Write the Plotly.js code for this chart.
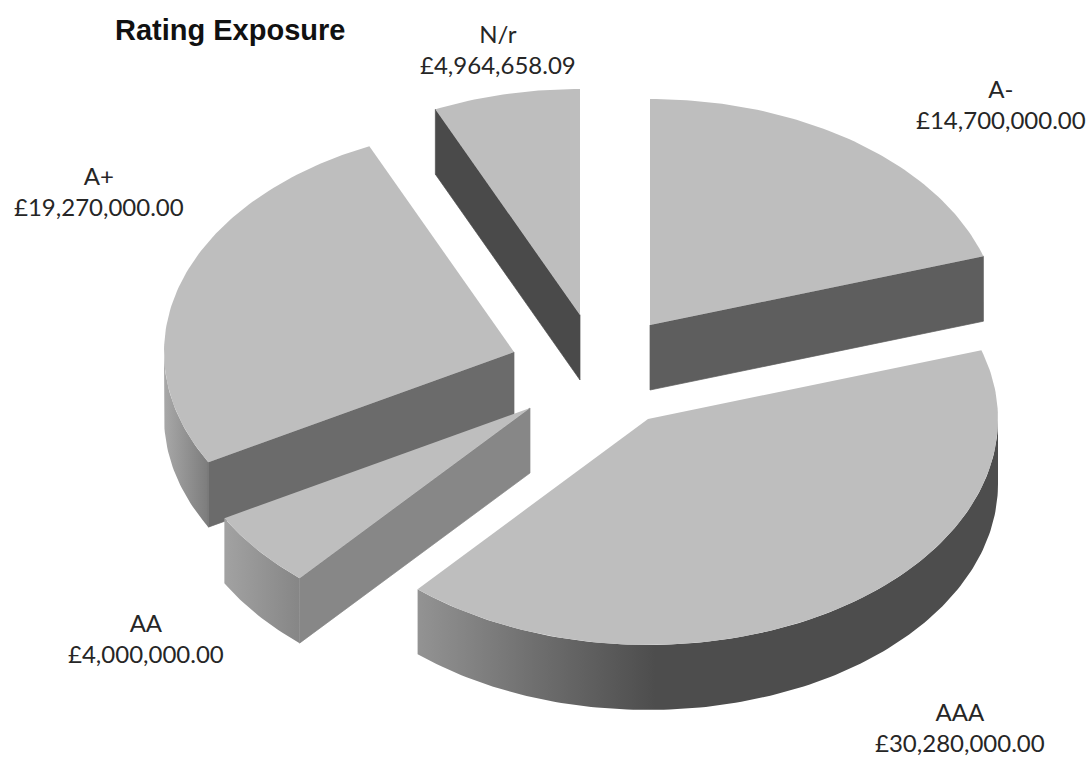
<!DOCTYPE html>
<html><head><meta charset="utf-8">
<script src="https://cdn.plot.ly/plotly-3.0.1.min.js"></script>
<style>html,body{margin:0;padding:0;background:#fff}#chart{width:1089px;height:757px}</style>
</head><body><div id="chart"></div>
<script>
// Data, clockwise from twelve o'clock
const categories = ['A-', 'AAA', 'AA', 'A+', 'N/r'];
const values = [14700000, 30280000, 4000000, 19270000, 4964658.09];
const titleText = 'Rating Exposure';

// Drawing geometry (page pixels) for the exploded, tilted pie
const apexX = [650, 648, 530, 514, 580];
const apexY = [325, 419, 408, 352, 315];
const labelX = [1001, 960, 146, 99, 498];
const labelY = [104, 727, 638, 191, 49];
const wallEdge = ['end', null, 'start', 'start', 'start'];
const wallColor = ['#5e5e5e', null, '#878787', '#6b6b6b', '#4a4a4a'];
const rimScale = [
  null,
  [[0, '#939393'], [0.2, '#6f6f6f'], [0.41, '#4d4d4d'], [1, '#4d4d4d']],
  [[0, '#a2a2a2'], [1, '#868686']],
  [[0, '#a8a8a8'], [1, '#7c7c7c']],
  null
];
const drawOrder = [4, 0, 3, 2, 1];
const RX = 350, RY = 226, DEPTH = 65, TOP = '#bebebe';

const total = values.reduce((a, b) => a + b, 0);
const rad = d => d * Math.PI / 180;
let acc = 0;
const spans = values.map(v => { const s = acc; acc += v / total * 360; return [s, acc]; });
const pt = (i, deg, dy) => [apexX[i] + RX * Math.sin(rad(deg)), apexY[i] - RY * Math.cos(rad(deg)) + dy];
const arc = (i, a, b, dy) => {
  const out = [], n = Math.max(2, Math.ceil(Math.abs(b - a)));
  for (let k = 0; k <= n; k++) out.push(pt(i, a + (b - a) * k / n, dy));
  return out;
};
const poly = (pts, extra) => Object.assign({
  x: pts.map(p => p[0]), y: pts.map(p => p[1]),
  type: 'scatter', mode: 'lines', fill: 'toself',
  line: {width: 0}, hoverinfo: 'skip', showlegend: false
}, extra);

const traces = [];
drawOrder.forEach(i => {
  const [s, e] = spans[i];
  const lo = Math.max(s, 90), hi = Math.min(e, 270);
  if (hi > lo && rimScale[i]) {
    const pts = arc(i, lo, hi, 0).concat(arc(i, hi, lo, DEPTH));
    const xs = pts.map(p => p[0]);
    traces.push(poly(pts, {
      fillcolor: rimScale[i][0][1],
      fillgradient: {type: 'horizontal', colorscale: rimScale[i], start: Math.min(...xs), stop: Math.max(...xs)}
    }));
  }
  if (wallEdge[i]) {
    const p = pt(i, wallEdge[i] === 'end' ? e : s, 0);
    const a = [apexX[i], apexY[i]];
    traces.push(poly([a, p, [p[0], p[1] + DEPTH], [a[0], a[1] + DEPTH], a],
      {fillcolor: wallColor[i], line: {width: 0.7, color: wallColor[i]}}));
  }
  const face = [[apexX[i], apexY[i]]].concat(arc(i, s, e, 0));
  face.push([apexX[i], apexY[i]]);
  traces.push(poly(face, {fillcolor: TOP, name: categories[i]}));
});

const money = v => '£' + v.toLocaleString('en-GB', {minimumFractionDigits: 2, maximumFractionDigits: 2});
const annotations = categories.map((c, i) => ({
  x: labelX[i], y: labelY[i], xref: 'x', yref: 'y',
  text: c + '<br>' + money(values[i]), showarrow: false,
  xanchor: 'center', yanchor: 'middle', align: 'center',
  font: {family: 'Lato, sans-serif', size: 24, color: '#262626'}
}));

Plotly.newPlot('chart', traces, {
  width: 1089, height: 757,
  margin: {l: 0, r: 0, t: 0, b: 0},
  paper_bgcolor: '#fff', plot_bgcolor: '#fff',
  showlegend: false,
  title: {text: '<b>' + titleText + '</b>', x: 115 / 1089, xanchor: 'left', y: 1 - 30 / 757, yanchor: 'middle',
    font: {family: '"Liberation Sans", Arial, sans-serif', size: 29, color: '#111'}},
  xaxis: {range: [0, 1089], visible: false, fixedrange: true},
  yaxis: {range: [757, 0], visible: false, fixedrange: true},
  annotations
}, {displayModeBar: false, staticPlot: true});
</script></body></html>
